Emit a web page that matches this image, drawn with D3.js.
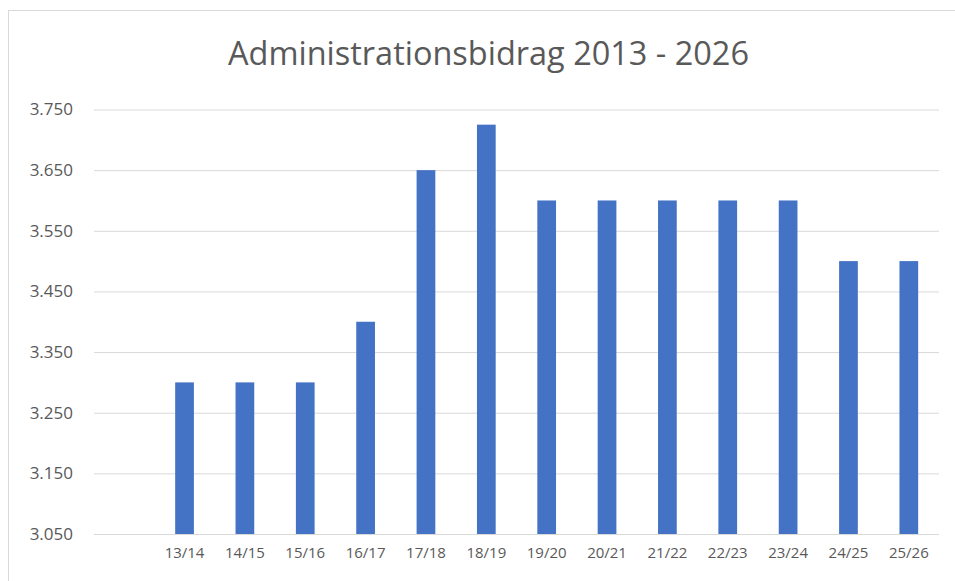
<!DOCTYPE html>
<html>
<head>
<meta charset="utf-8">
<script src="https://cdn.jsdelivr.net/npm/d3@7"></script>
<style>
html,body{margin:0;padding:0;background:#fff;}
svg{display:block;}
</style>
</head>
<body>
<svg id="chart" width="955" height="581"></svg>
<script>
const title = "Administrationsbidrag 2013 - 2026";
const categories = ["", "13/14", "14/15", "15/16", "16/17", "17/18", "18/19", "19/20", "20/21", "21/22", "22/23", "23/24", "24/25", "25/26"];
const values = [null, 3300, 3300, 3300, 3400, 3650, 3725, 3600, 3600, 3600, 3600, 3600, 3500, 3500];
const yTicks = [3050, 3150, 3250, 3350, 3450, 3550, 3650, 3750];

const svg = d3.select("#chart");
const W = 955, H = 581;
const m = {left: 94, right: 16, top: 109.5, bottom: 47};

// chart border
svg.append("rect").attr("x", 8.5).attr("y", 10.5).attr("width", 960).attr("height", 600)
  .attr("fill", "none").attr("stroke", "#d9d9d9").attr("stroke-width", 1);

const x = d3.scaleBand().domain(categories.map((c, i) => i)).range([m.left, W - m.right]).paddingInner(0.69).paddingOuter(0.345);
const y = d3.scaleLinear().domain([3050, 3750]).range([H - m.bottom, m.top]);

// gridlines
const yAxis = d3.axisLeft(y).tickValues(yTicks).tickSize(-(W - m.right - m.left)).tickPadding(21)
  .tickFormat(d => d3.format(".3f")(d / 1000));
const gy = svg.append("g").attr("transform", `translate(${m.left},0)`).call(yAxis);
gy.select(".domain").remove();
gy.selectAll(".tick line").attr("stroke", "#d9d9d9").attr("stroke-width", 1);
gy.selectAll(".tick text").attr("fill", "#595959").style("font-family", "'Open Sans', sans-serif").style("font-size", "17px");

// bars
svg.append("g").selectAll("rect").data(values.map((v, i) => ({v, i})).filter(d => d.v != null)).join("rect")
  .attr("x", d => x(d.i)).attr("width", x.bandwidth())
  .attr("y", d => y(d.v)).attr("height", d => y(3050) - y(d.v))
  .attr("fill", "#4472c4");

// x axis labels
const xAxis = d3.axisBottom(x).tickFormat(i => categories[i]).tickSize(0).tickPadding(13);
const gx = svg.append("g").attr("transform", `translate(0,${H - m.bottom})`).call(xAxis);
gx.select(".domain").remove();
gx.selectAll(".tick text").attr("fill", "#595959").style("font-family", "'Open Sans', sans-serif").style("font-size", "15px");

// title
svg.append("text").attr("x", 488.5).attr("y", 65).attr("text-anchor", "middle")
  .attr("fill", "#595959").style("font-family", "'Open Sans', sans-serif").style("font-size", "33px").style("font-weight", 400)
  .attr("textLength", 521).attr("lengthAdjust", "spacingAndGlyphs")
  .text(title);
</script>
</body>
</html>
